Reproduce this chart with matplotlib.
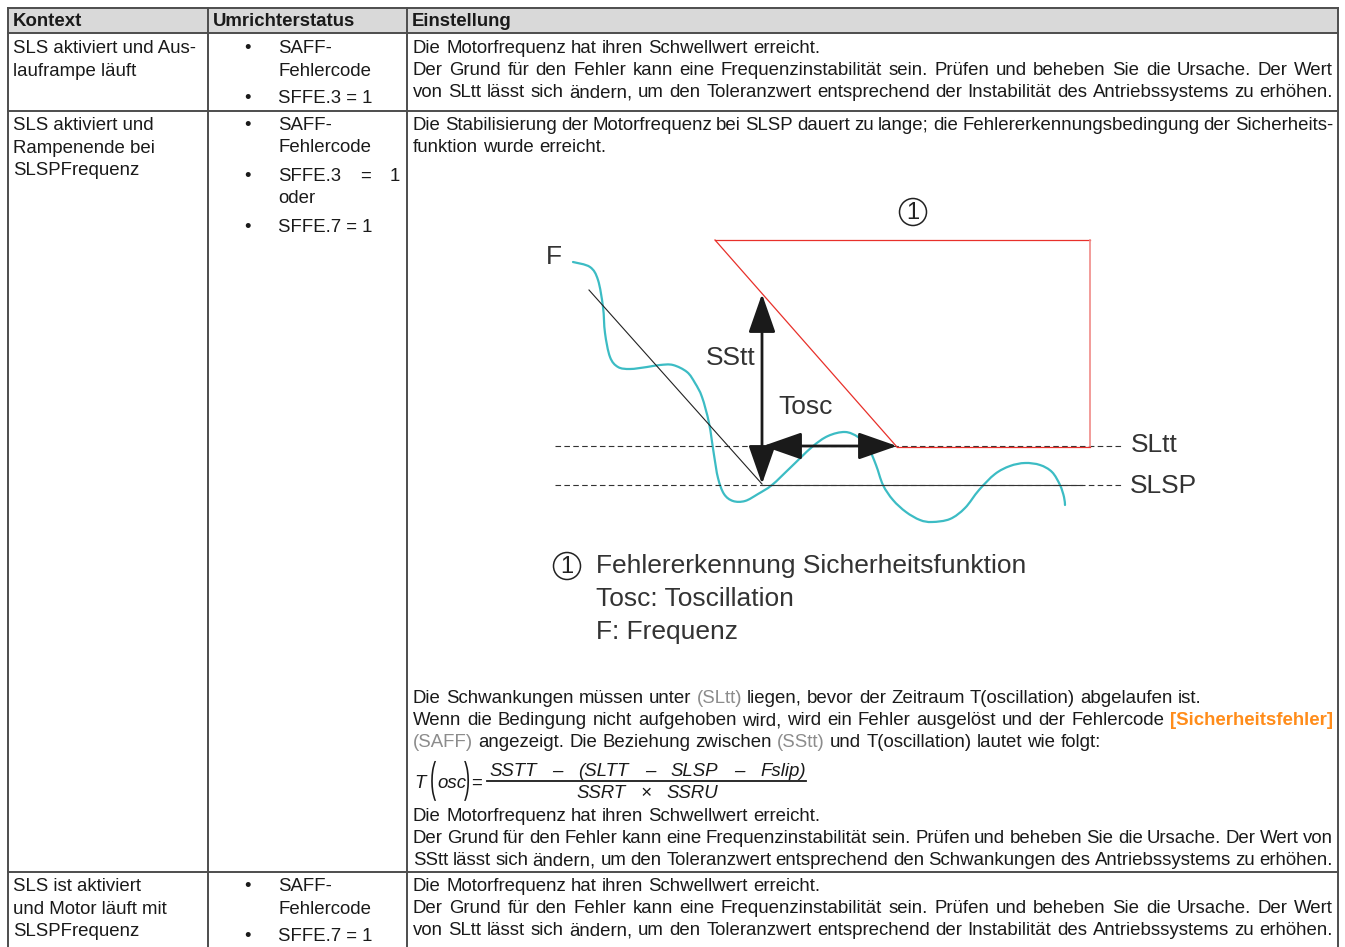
import matplotlib.pyplot as plt
from matplotlib.patches import Circle, PathPatch
from matplotlib.path import Path
from matplotlib.textpath import TextPath
from matplotlib.font_manager import FontProperties
from matplotlib.transforms import Affine2D

plt.rcParams['font.family'] = ['Liberation Sans', 'DejaVu Sans']

W, H = 1345, 947
BODY = 13.4
BIG = 19
INK = '#1a1a1a'
GREY = '#8c8c8c'
ORANGE = '#ff8c1a'
CYAN = '#3cbcc4'
RED = '#e8302a'

# table layout data
col_x = [8, 208, 407, 1338]
row_y = [8, 33, 111, 872, 960]
headers = ['Kontext', 'Umrichterstatus', 'Einstellung']

kontext = [
    ['SLS aktiviert und Aus-', 'lauframpe läuft'],
    ['SLS aktiviert und', 'Rampenende bei', 'SLSPFrequenz'],
    ['SLS ist aktiviert', 'und Motor läuft mit', 'SLSPFrequenz'],
]

# frequency curve F (diagram)
freq_x = [573, 590, 598, 603, 605, 610, 618, 630, 647, 660, 673, 687, 695, 702,
          709, 714, 718, 724, 733, 745, 758, 772, 790, 812, 828, 845, 858, 868,
          876, 883, 893, 906, 920, 932, 950, 965, 979, 995, 1010, 1025, 1040,
          1052, 1060, 1064, 1065]
freq_y = [262, 267, 280, 307, 333, 357, 367, 369, 367, 365, 365, 372, 383, 397,
          423, 455, 478, 494, 501, 501, 494, 485, 468, 447, 436, 432, 437, 447,
          465, 485, 500, 512, 520, 522, 519, 508, 490, 474, 466, 463, 465, 472,
          485, 497, 505]

slope_x = [589, 762]
slope_y = [290, 484]
window_x = [715, 1090, 1090, 897, 715]
window_y = [240, 240, 447, 447, 240]
sltt_y, slsp_y = 446, 485
dash_x = [555, 1122]

fig = plt.figure(figsize=(W / 100, H / 100), dpi=100)
ax = fig.add_axes([0, 0, 1, 1])
ax.set_xlim(0, W)
ax.set_ylim(H, 0)
ax.axis('off')
r = fig.canvas.get_renderer()


def line(x0, y, parts, x1=None, size=BODY, **kw):
    """Place words one by one; justify between x0 and x1 when x1 is given."""
    items = []
    for txt, st in parts:
        for w in txt.split():
            items.append(ax.text(x0, y, w, fontsize=size, va='baseline',
                                 ha='left', color=st.get('color', INK),
                                 fontweight=st.get('weight', 'normal'), **kw))
    widths = [t.get_window_extent(r).width for t in items]
    if x1 is None or len(items) < 2:
        gap = 0.278 * size * 100 / 72
    else:
        gap = (x1 - x0 - sum(widths)) / (len(items) - 1)
    x = x0
    for t, w in zip(items, widths):
        t.set_x(x)
        x += w + gap


def plain(x0, y, s, x1=None, size=BODY):
    line(x0, y, [(s, {})], x1=x1, size=size)


def tall(ch, x, y_base, yscale, size=BODY):
    tp = TextPath((0, 0), ch, size=size * 100 / 72,
                  prop=FontProperties(family='Liberation Sans'))
    p = Affine2D().scale(1, -yscale).translate(x, y_base).transform_path(tp)
    ax.add_patch(PathPatch(p, fc=INK, lw=0))


def smooth_path(xs, ys):
    # Catmull-Rom through the read points, drawn as cubic Bezier segments
    pts = list(zip(xs, ys))
    verts, codes = [pts[0]], [Path.MOVETO]
    for i in range(len(pts) - 1):
        p0 = pts[max(i - 1, 0)]
        p1, p2 = pts[i], pts[i + 1]
        p3 = pts[min(i + 2, len(pts) - 1)]
        c1 = (p1[0] + (p2[0] - p0[0]) / 6, p1[1] + (p2[1] - p0[1]) / 6)
        c2 = (p2[0] - (p3[0] - p1[0]) / 6, p2[1] - (p3[1] - p1[1]) / 6)
        verts += [c1, c2, p2]
        codes += [Path.CURVE4] * 3
    return Path(verts, codes)


# header + grid
ax.fill_between([col_x[0], col_x[-1]], row_y[0], row_y[1], color='#d9d9d9', lw=0)
for x in col_x:
    ax.plot([x, x], [row_y[0], H + 5], color='#4d4d4d', lw=1.4)
for y in row_y[:4]:
    ax.plot([col_x[0], col_x[-1]], [y, y], color='#4d4d4d', lw=1.4)
for x, h in zip(col_x, headers):
    ax.text(x + 5, 26, h, fontsize=BODY, fontweight='bold', va='baseline', color=INK)

# column 1
for rows, y0 in zip(kontext, [53, 130, 891]):
    for i, s in enumerate(rows):
        ax.text(13, y0 + i * 22.5, s, fontsize=BODY, va='baseline', color=INK)


# column 2
def bullet(y):
    ax.text(244, y, '•', fontsize=BODY, va='baseline', color=INK)


for y0, last in [(53, 'SFFE.3 = 1'), (891, 'SFFE.7 = 1')]:
    bullet(y0)
    ax.text(278, y0, 'SAFF-', fontsize=BODY, va='baseline', color=INK)
    ax.text(278, y0 + 22.5, 'Fehlercode', fontsize=BODY, va='baseline', color=INK)
    bullet(y0 + 50)
    ax.text(278, y0 + 50, last, fontsize=BODY, va='baseline', color=INK)
bullet(130)
ax.text(278, 130, 'SAFF-', fontsize=BODY, va='baseline', color=INK)
ax.text(278, 152, 'Fehlercode', fontsize=BODY, va='baseline', color=INK)
bullet(181)
plain(278, 181, 'SFFE.3 = 1', x1=400)
ax.text(278, 203, 'oder', fontsize=BODY, va='baseline', color=INK)
bullet(232)
ax.text(278, 232, 'SFFE.7 = 1', fontsize=BODY, va='baseline', color=INK)

# column 3
X0, X1 = 413, 1333
for y0 in [53, 891]:
    plain(X0, y0, 'Die Motorfrequenz hat ihren Schwellwert erreicht.')
    plain(X0, y0 + 22, 'Der Grund für den Fehler kann eine Frequenzinstabilität sein. '
          'Prüfen und beheben Sie die Ursache. Der Wert', x1=X1)
    plain(X0, y0 + 44, 'von SLtt lässt sich ändern, um den Toleranzwert entsprechend '
          'der Instabilität des Antriebssystems zu erhöhen.', x1=X1)

plain(X0, 130, 'Die Stabilisierung der Motorfrequenz bei SLSP dauert zu lange; die '
      'Fehlererkennungsbedingung der Sicherheits-', x1=X1)
plain(X0, 152, 'funktion wurde erreicht.')

line(X0, 703, [('Die Schwankungen müssen unter', {}), ('(SLtt)', {'color': GREY}),
               ('liegen, bevor der Zeitraum T(oscillation) abgelaufen ist.', {})])
line(X0, 725, [('Wenn die Bedingung nicht aufgehoben wird, wird ein Fehler ausgelöst '
                'und der Fehlercode', {}),
               ('[Sicherheitsfehler]', {'color': ORANGE, 'weight': 'bold'})], x1=X1)
line(X0, 747, [('(SAFF)', {'color': GREY}), ('angezeigt. Die Beziehung zwischen', {}),
               ('(SStt)', {'color': GREY}), ('und T(oscillation) lautet wie folgt:', {})])

# formula
ax.text(414, 788, 'T', fontsize=BODY, style='italic', va='baseline', color=INK)
tall('(', 430, 792, 2.3)
ax.text(437, 788, 'osc', fontsize=BODY, style='italic', va='baseline', color=INK)
tall(')', 464, 792, 2.3)
ax.text(471, 788, '=', fontsize=BODY, va='baseline', color=INK)
line(489, 776, [('SSTT – (SLTT – SLSP – Fslip)', {})], x1=806, style='italic')
ax.plot([487, 806], [781, 781], color=INK, lw=1.3)
line(576, 798, [('SSRT × SSRU', {})], x1=718, style='italic')

plain(X0, 821, 'Die Motorfrequenz hat ihren Schwellwert erreicht.')
plain(X0, 843, 'Der Grund für den Fehler kann eine Frequenzinstabilität sein. '
      'Prüfen und beheben Sie die Ursache. Der Wert von', x1=X1)
plain(X0, 865, 'SStt lässt sich ändern, um den Toleranzwert entsprechend den '
      'Schwankungen des Antriebssystems zu erhöhen.', x1=X1)

# diagram
for y in [sltt_y, slsp_y]:
    ax.plot(dash_x, [y, y], color='#333333', lw=0.8, ls=(0, (5, 3)))
ax.plot([762, 1082], [slsp_y, slsp_y], color='#333333', lw=0.8)
ax.plot(window_x[:2], window_y[:2], color=RED, lw=0.9)
ax.plot(window_x[1:3], window_y[1:3], color='#f08a88', lw=1.2)
ax.plot(window_x[2:4], window_y[2:4], color=RED, lw=0.9)
ax.plot(window_x[3:], window_y[3:], color=RED, lw=0.9)
ax.plot(slope_x, slope_y, color='#222222', lw=0.8)
ax.add_patch(PathPatch(smooth_path(freq_x, freq_y), fill=False, ec=CYAN, lw=1.6,
                       capstyle='round'))

arrow = dict(arrowstyle='<|-|>,head_length=1.2,head_width=0.42', color=INK,
             lw=2.0, shrinkA=0, shrinkB=0, mutation_scale=20)
ax.annotate('', xy=(762, 294), xytext=(762, 484), arrowprops=arrow)
ax.annotate('', xy=(763, sltt_y), xytext=(897, sltt_y), arrowprops=arrow)

ax.text(546, 257, 'F', fontsize=BIG, va='center', color='#333333')
ax.text(706, 358, 'SStt', fontsize=BIG, va='center', color='#333333')
ax.text(778, 407, 'Tosc', fontsize=BIG, va='center', color='#333333')
ax.text(1131, 445, 'SLtt', fontsize=BIG, va='center', color='#333333')
ax.text(1130, 486, 'SLSP', fontsize=BIG, va='center', color='#333333')

for cx, cy in [(913, 212), (567, 566)]:
    ax.add_patch(Circle((cx, cy), 13.5, fill=False, ec='#222222', lw=1.1))
    ax.text(cx, cy + 1, '1', fontsize=17, ha='center', va='center', color='#222222')

ax.text(596, 566, 'Fehlererkennung Sicherheitsfunktion', fontsize=BIG, va='center',
        color='#333333')
ax.text(596, 599, 'Tosc: Toscillation', fontsize=BIG, va='center', color='#333333')
ax.text(596, 632, 'F: Frequenz', fontsize=BIG, va='center', color='#333333')

fig.savefig('out.png', dpi=100)
